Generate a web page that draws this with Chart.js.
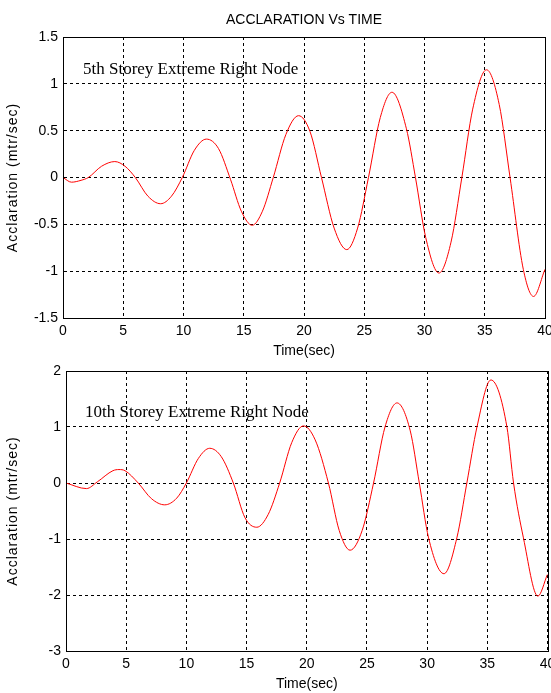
<!DOCTYPE html>
<html><head><meta charset="utf-8">
<script src="https://cdn.jsdelivr.net/npm/chart.js@4.4.1/dist/chart.umd.min.js"></script>
<style>
html,body{margin:0;padding:0;background:#fff;overflow:hidden;width:551px;height:693px}
#c1{position:absolute;left:0;top:0}
#c2{position:absolute;left:0;top:360px}
</style></head><body>
<canvas id="c1" width="551" height="360"></canvas>
<canvas id="c2" width="551" height="333"></canvas>
<script>
const chartTitle = 'ACCLARATION Vs TIME';
const xAxisTitle = 'Time(sec)';
const yAxisTitle = 'Acclaration (mtr/sec)';
const topNote = '5th Storey Extreme Right Node';
const bottomNote = '10th Storey Extreme Right Node';

const xTicks = [0, 5, 10, 15, 20, 25, 30, 35, 40];
const xTickLabels = ['0', '5', '10', '15', '20', '25', '30', '35', '40'];
const topYTicks = [-1.5, -1, -0.5, 0, 0.5, 1, 1.5];
const topYTickLabels = ['-1.5', '-1', '-0.5', '0', '0.5', '1', '1.5'];
const bottomYTicks = [-3, -2, -1, 0, 1, 2];
const bottomYTickLabels = ['-3', '-2', '-1', '0', '1', '2'];

// 5th storey
const topTime = [0, 0.7, 1.5, 2.1, 3.2, 4.3, 5.15, 6.0, 7.05, 8.1, 9.0, 9.9, 10.9, 11.9, 12.9, 13.9,
  14.8, 15.7, 16.55, 17.45, 18.5, 19.55, 20.5, 21.45, 22.5, 23.55, 24.45, 25.35, 26.33, 27.3,
  28.5, 29.25, 30.1, 31.2, 32.2, 33.1, 34.0, 35.15, 36.2, 37.1, 38.2, 39.05, 40.0];
const topAccel = [0, -0.05, -0.03, 0, 0.12, 0.17, 0.12, 0, -0.2, -0.28, -0.2, 0, 0.29, 0.41, 0.31, -0.02,
  -0.36, -0.51, -0.36, 0, 0.46, 0.66, 0.49, 0, -0.54, -0.77, -0.54, 0, 0.64, 0.91,
  0.52, 0, -0.64, -1.02, -0.69, 0, 0.73, 1.15, 0.78, 0, -0.98, -1.27, -0.98];

// 10th storey
const bottomTime = [0, 1.7, 2.6, 3.9, 4.4, 4.9, 6.0, 7.1, 8.2, 9.2, 10.0, 11.0, 11.94, 12.9, 13.9,
  14.87, 15.85, 16.8, 17.75, 18.75, 19.73, 20.7, 21.8, 22.7, 23.6, 24.6, 25.55, 26.5, 27.5,
  28.6, 29.35, 30.12, 31.4, 32.47, 33.3, 34.14, 35.3, 36.63, 37.18, 38.0, 39.2, 40.0];
const bottomAccel = [0, -0.1, 0.02, 0.22, 0.24, 0.22, 0, -0.28, -0.39, -0.27, 0, 0.44, 0.62, 0.47, 0,
  -0.62, -0.79, -0.56, 0, 0.72, 1.02, 0.77, 0, -0.85, -1.2, -0.85, 0, 1.0, 1.43,
  0.93, 0, -0.98, -1.62, -0.98, 0, 1.0, 1.84, 1.0, 0, -0.98, -2.02, -1.63];

const SANS = '"Liberation Sans", Arial, sans-serif';
const SERIF = '"Liberation Serif", "Times New Roman", serif';

const boxPlugin = {
  id: 'box',
  afterDraw(chart, args, o) {
    const {ctx, chartArea: a} = chart;
    ctx.save();
    ctx.setLineDash([]);
    ctx.strokeStyle = '#000';
    ctx.lineWidth = 1;
    ctx.strokeRect(Math.round(a.left) + 0.5, Math.round(a.top) + 0.5,
      Math.round(a.right) - Math.round(a.left), Math.round(a.bottom) - Math.round(a.top));
    ctx.font = '17px ' + SERIF;
    ctx.fillStyle = '#000';
    ctx.textBaseline = 'alphabetic';
    ctx.textAlign = 'left';
    ctx.fillText(o.text, o.x, o.y);
    // y axis title (wider letter spacing like the original)
    ctx.translate(13, (a.top + a.bottom) / 2);
    ctx.rotate(-Math.PI / 2);
    ctx.font = '14px ' + SANS;
    ctx.letterSpacing = '1px';
    ctx.textAlign = 'center';
    ctx.textBaseline = 'middle';
    ctx.fillText(yAxisTitle, 0, 0);
    ctx.restore();
  }
};

function makeChart(id, time, accel, yTicks, yLabels, yMin, yMax, pad, showTitle, note) {
  const pts = time.map((t, i) => ({x: t, y: accel[i]}));
  return new Chart(document.getElementById(id), {
    type: 'line',
    data: {datasets: [{data: pts, borderColor: '#ff0000', borderWidth: 1, pointRadius: 0,
      fill: false, cubicInterpolationMode: 'monotone'}]},
    options: {
      responsive: false, animation: false, devicePixelRatio: 1,
      layout: {padding: pad},
      plugins: {
        legend: {display: false}, tooltip: {enabled: false},
        title: {display: showTitle, text: chartTitle, fullSize: false, color: '#000',
          font: {family: SANS, size: 14, weight: 'normal'}, padding: {top: 11.6, bottom: 8.6}},
        box: note
      },
      scales: {
        x: {
          type: 'linear', min: 0, max: 40,
          afterBuildTicks: s => { s.ticks = xTicks.map(v => ({value: v})); },
          ticks: {callback: v => xTickLabels[xTicks.indexOf(v)], color: '#000', padding: 5,
            maxRotation: 0, autoSkip: false, font: {family: SANS, size: 14}},
          grid: {color: '#000', lineWidth: 1, drawTicks: false},
          border: {display: true, color: '#000', dash: [3, 3]},
          title: {display: true, text: xAxisTitle, color: '#000', font: {family: SANS, size: 14},
            padding: {top: 0, bottom: 0}},
          afterFit: s => { s.height = 42; s.paddingLeft = 0; s.paddingRight = 0; }
        },
        y: {
          type: 'linear', min: yMin, max: yMax,
          afterBuildTicks: s => { s.ticks = yTicks.map(v => ({value: v})); },
          ticks: {callback: v => yLabels[yTicks.indexOf(v)], color: '#000', padding: 5,
            autoSkip: false, font: {family: SANS, size: 14}},
          grid: {color: '#000', lineWidth: 1, drawTicks: false},
          border: {display: true, color: '#000', dash: [3, 3]},
          title: {display: false},
          afterFit: s => { s.width = pad.yWidth; s.paddingTop = 0; s.paddingBottom = 0; }
        }
      }
    },
    plugins: [boxPlugin]
  });
}

makeChart('c1', topTime, topAccel, topYTicks, topYTickLabels, -1.5, 1.5,
  {top: 0, right: 6, left: 0, bottom: 0, yWidth: 63}, true, {text: topNote, x: 83, y: 74});
makeChart('c2', bottomTime, bottomAccel, bottomYTicks, bottomYTickLabels, -3, 2,
  {top: 11, right: 3.5, left: 0, bottom: 0, yWidth: 66}, false, {text: bottomNote, x: 85, y: 57});
</script>
</body></html>
